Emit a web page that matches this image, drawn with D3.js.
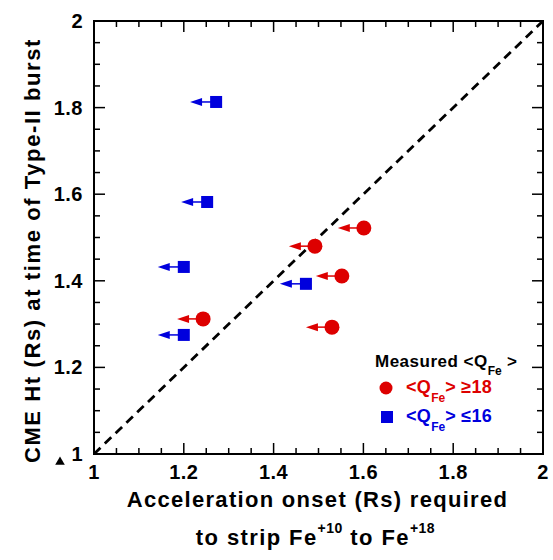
<!DOCTYPE html>
<html>
<head>
<meta charset="utf-8">
<script src="https://cdn.jsdelivr.net/npm/d3@7"></script>
<style>
  body { margin: 0; background: #fff; }
  svg { display: block; font-family: "Liberation Sans", Arial, Helvetica, sans-serif; font-weight: bold; }
</style>
</head>
<body>
<div id="chart"></div>
<script>
// values
// red circles: measured <Q_Fe> >= 18
const highQx = [1.492, 1.552, 1.243, 1.530, 1.601];
const highQy = [1.480, 1.411, 1.312, 1.293, 1.522];
// blue squares: measured <Q_Fe> <= 16
const lowQx = [1.272, 1.252, 1.200, 1.472, 1.200];
const lowQy = [1.813, 1.582, 1.432, 1.393, 1.275];
// every point is an upper limit, drawn as a left arrow of this length (Rs)
const arrowLen = 0.058;

const majorTicks = [1, 1.2, 1.4, 1.6, 1.8, 2];
const tickLabels = ["1", "1.2", "1.4", "1.6", "1.8", "2"];

const width = 553, height = 560;
const margin = {top: 21, right: 10, bottom: 106, left: 94};

const svg = d3.select("#chart").append("svg")
    .attr("width", width)
    .attr("height", height);

const x = d3.scaleLinear().domain([1, 2]).range([margin.left, width - margin.right]);
const y = d3.scaleLinear().domain([1, 2]).range([height - margin.bottom, margin.top]);

const minorTicks = d3.range(1, 2.0001, 0.05);

// frame
svg.append("rect")
    .attr("x", x(1)).attr("y", y(2))
    .attr("width", x(2) - x(1)).attr("height", y(1) - y(2))
    .attr("fill", "none").attr("stroke", "#000").attr("stroke-width", 2);

// inward ticks on all four sides
const tickG = svg.append("g").attr("stroke", "#000").attr("stroke-width", 1.5);
minorTicks.forEach(v => {
    const major = majorTicks.some(m => Math.abs(m - v) < 1e-6);
    const len = major ? 11 : 6;
    tickG.append("line").attr("x1", x(v)).attr("x2", x(v)).attr("y1", y(1)).attr("y2", y(1) - len);
    tickG.append("line").attr("x1", x(v)).attr("x2", x(v)).attr("y1", y(2)).attr("y2", y(2) + len);
    tickG.append("line").attr("y1", y(v)).attr("y2", y(v)).attr("x1", x(1)).attr("x2", x(1) + len);
    tickG.append("line").attr("y1", y(v)).attr("y2", y(v)).attr("x1", x(2)).attr("x2", x(2) - len);
});

// tick labels
svg.append("g").selectAll("text")
    .data(majorTicks)
    .join("text")
    .attr("x", d => x(d))
    .attr("y", y(1) + 25)
    .attr("text-anchor", "middle")
    .attr("font-size", 20)
    .attr("letter-spacing", 0.5)
    .text((d, i) => tickLabels[i]);

svg.append("g").selectAll("text")
    .data(majorTicks)
    .join("text")
    .attr("x", x(1) - 11)
    .attr("y", d => y(d) + 7)
    .attr("text-anchor", "end")
    .attr("font-size", 20)
    .attr("letter-spacing", 0.5)
    .text((d, i) => tickLabels[i]);

// small stray triangle near the origin
svg.append("path")
    .attr("d", d3.symbol(d3.symbolTriangle, 40)())
    .attr("transform", `translate(${x(1) - 34},${y(1) + 8})`)
    .attr("fill", "#000");

// y = x reference line
svg.append("line")
    .attr("x1", x(1)).attr("y1", y(1))
    .attr("x2", x(2)).attr("y2", y(2))
    .attr("stroke", "#000").attr("stroke-width", 2.8)
    .attr("stroke-dasharray", "9,6");

// arrows + markers
function drawSeries(xs, ys, color, shape) {
    const g = svg.append("g");
    xs.forEach((xv, i) => {
        const px = x(xv), py = y(ys[i]);
        const tip = x(xv - arrowLen);
        g.append("line")
            .attr("x1", px).attr("y1", py)
            .attr("x2", tip + 10).attr("y2", py)
            .attr("stroke", color).attr("stroke-width", 1.5);
        g.append("path")
            .attr("d", `M${tip},${py} L${tip + 12},${py - 4} L${tip + 12},${py + 4} Z`)
            .attr("fill", color);
        if (shape === "circle") {
            g.append("circle").attr("cx", px).attr("cy", py).attr("r", 7.5).attr("fill", color);
        } else {
            g.append("rect").attr("x", px - 6).attr("y", py - 6)
                .attr("width", 12).attr("height", 12).attr("fill", color);
        }
    });
}
drawSeries(lowQx, lowQy, "#0000dd", "square");
drawSeries(highQx, highQy, "#dd0000", "circle");

// axis titles
svg.append("text")
    .attr("x", (x(1) + x(2)) / 2 - 1)
    .attr("y", 507)
    .attr("text-anchor", "middle")
    .attr("font-size", 22)
    .attr("letter-spacing", 1.3)
    .text("Acceleration onset (Rs) required");

const t2 = svg.append("text")
    .attr("x", (x(1) + x(2)) / 2 - 3)
    .attr("y", 545)
    .attr("text-anchor", "middle")
    .attr("font-size", 22)
    .attr("letter-spacing", 1.4);
t2.append("tspan").text("to strip Fe");
t2.append("tspan").attr("dy", -12).attr("font-size", 14).attr("letter-spacing", 0.5).text("+10");
t2.append("tspan").attr("dy", 12).text(" to Fe");
t2.append("tspan").attr("dy", -12).attr("font-size", 14).attr("letter-spacing", 0.5).text("+18");

svg.append("text")
    .attr("transform", `translate(40,${(y(1) + y(2)) / 2 + 13}) rotate(-90)`)
    .attr("text-anchor", "middle")
    .attr("font-size", 22)
    .attr("letter-spacing", 1.6)
    .text("CME Ht (Rs) at time of Type-II burst");

// legend
const lg = svg.append("g");
const lt = lg.append("text").attr("x", 375).attr("y", 367).attr("font-size", 17)
    .attr("letter-spacing", 0.5).attr("fill", "#000");
lt.append("tspan").text("Measured <Q");
lt.append("tspan").attr("dy", 8).attr("font-size", 12).attr("letter-spacing", 0).text("Fe");
lt.append("tspan").attr("dy", -8).text(" >");

const legendItems = [
    {color: "#dd0000", shape: "circle", label: " ≥18", y: 388},
    {color: "#0000dd", shape: "square", label: " ≤16", y: 417}
];
legendItems.forEach(d => {
    if (d.shape === "circle") {
        lg.append("circle").attr("cx", 386).attr("cy", d.y).attr("r", 6.5).attr("fill", d.color);
    } else {
        lg.append("rect").attr("x", 381).attr("y", d.y - 6).attr("width", 12).attr("height", 12).attr("fill", d.color);
    }
    const t = lg.append("text").attr("x", 406).attr("y", d.y + 5).attr("font-size", 18)
        .attr("letter-spacing", 0.3).attr("fill", d.color);
    t.append("tspan").text("<Q");
    t.append("tspan").attr("dy", 9).attr("font-size", 12).attr("letter-spacing", 0).text("Fe");
    t.append("tspan").attr("dy", -9).text(">" + d.label);
});
</script>
</body>
</html>
